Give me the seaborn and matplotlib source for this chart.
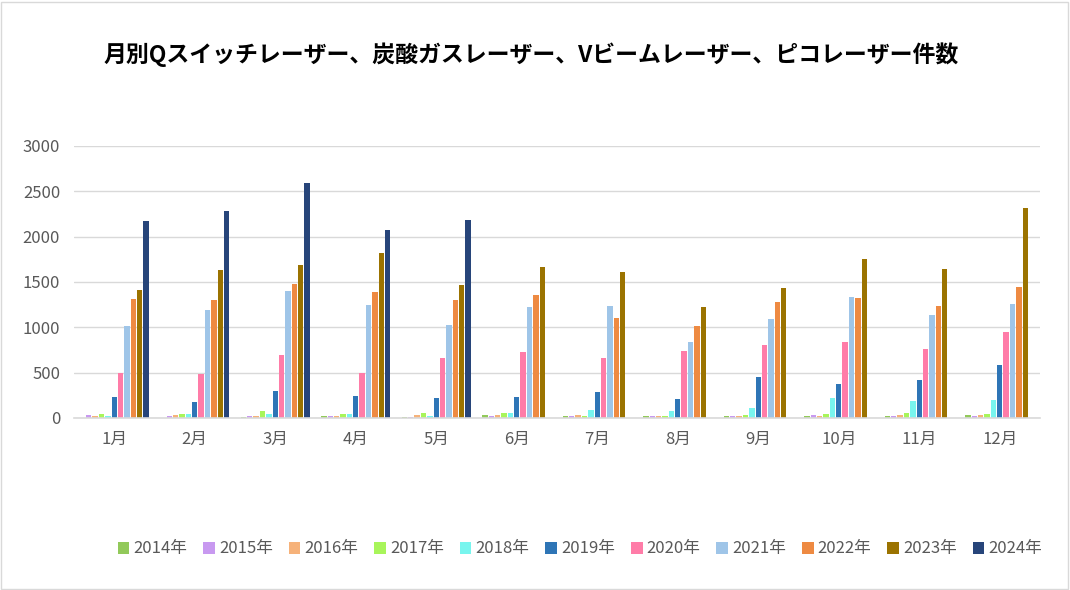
import matplotlib
matplotlib.use("Agg")
import matplotlib.pyplot as plt
import seaborn as sns
import pandas as pd

months = ["1月", "2月", "3月", "4月", "5月", "6月", "7月", "8月", "9月", "10月", "11月", "12月"]
years = ["2014年", "2015年", "2016年", "2017年", "2018年", "2019年",
         "2020年", "2021年", "2022年", "2023年", "2024年"]

v2014 = [0, 0, 10, 20, 10, 30, 20, 20, 20, 20, 20, 30]
v2015 = [35, 20, 20, 20, 10, 20, 20, 20, 20, 30, 20, 20]
v2016 = [20, 35, 20, 20, 30, 30, 30, 20, 20, 20, 30, 30]
v2017 = [45, 45, 80, 45, 55, 55, 20, 20, 30, 45, 55, 45]
v2018 = [20, 45, 45, 45, 20, 55, 90, 80, 110, 225, 190, 200]
v2019 = [230, 175, 300, 245, 220, 230, 285, 210, 450, 375, 420, 585]
v2020 = [495, 485, 695, 495, 660, 730, 660, 740, 805, 840, 760, 950]
v2021 = [1015, 1190, 1400, 1245, 1025, 1225, 1235, 840, 1090, 1335, 1135, 1255]
v2022 = [1310, 1300, 1480, 1390, 1300, 1355, 1100, 1015, 1280, 1325, 1235, 1445]
v2023 = [1410, 1630, 1690, 1820, 1465, 1665, 1610, 1225, 1435, 1755, 1645, 2315]
v2024 = [2175, 2285, 2590, 2075, 2185, None, None, None, None, None, None, None]

series = [v2014, v2015, v2016, v2017, v2018, v2019, v2020, v2021, v2022, v2023, v2024]
colors = ["#92c95a", "#c899f0", "#f6b27a", "#a8f55a", "#78f5ee", "#2e75b6",
          "#ff7ca8", "#9fc5e8", "#ee8a42", "#9b7300", "#27457a"]

rows = []
for y, vals in zip(years, series):
    for m, v in zip(months, vals):
        rows.append({"月": m, "年": y, "件数": v})
df = pd.DataFrame(rows)

sns.set_theme(style="white")
plt.rcParams['font.family'] = ['Noto Sans CJK JP', 'DejaVu Sans']

fig = plt.figure(figsize=(10.7, 5.9), dpi=100)
ax = fig.add_axes([74 / 1070, 1 - 418 / 590, (1040 - 74) / 1070, (418 - 146) / 590])

sns.barplot(data=df, x="月", y="件数", hue="年", order=months, hue_order=years,
            palette=colors, width=0.87, gap=0.15, ax=ax, legend=True,
            saturation=1, linewidth=0)

ax.set_ylim(0, 3000)
ax.set_xlim(-0.5, 11.5)
ax.set_yticks(range(0, 3001, 500))
ax.yaxis.grid(True, color="#d9d9d9", linewidth=1)
ax.set_axisbelow(True)
for s in ["top", "right", "left"]:
    ax.spines[s].set_visible(False)
ax.spines["bottom"].set_color("#d9d9d9")
ax.spines["bottom"].set_linewidth(1.2)
ax.tick_params(axis="both", length=0, labelsize=12, colors="#595959")
ax.tick_params(axis="y", pad=10)
ax.tick_params(axis="x", pad=9)
ax.set_xlabel("")
ax.set_ylabel("")

handles, labels = ax.get_legend_handles_labels()
ax.legend_.remove()
fig.legend(handles, labels, loc="center", bbox_to_anchor=(580 / 1070, 1 - 549 / 590),
           ncol=11, frameon=False, fontsize=12, handlelength=0.7, handleheight=0.7,
           handletextpad=0.25, columnspacing=0.95, labelcolor="#595959", borderaxespad=0)

fig.text(531 / 1070, 1 - 55 / 590, "月別Qスイッチレーザー、炭酸ガスレーザー、Vビームレーザー、ピコレーザー件数",
         ha="center", va="center", fontsize=16.5, fontweight="bold", color="#000000")

border = plt.Rectangle((0.001, 0.002), 0.997, 0.995, transform=fig.transFigure,
                       fill=False, edgecolor="#d9d9d9", linewidth=1)
fig.patches.append(border)

fig.savefig("out.png", dpi=100, facecolor="white")
